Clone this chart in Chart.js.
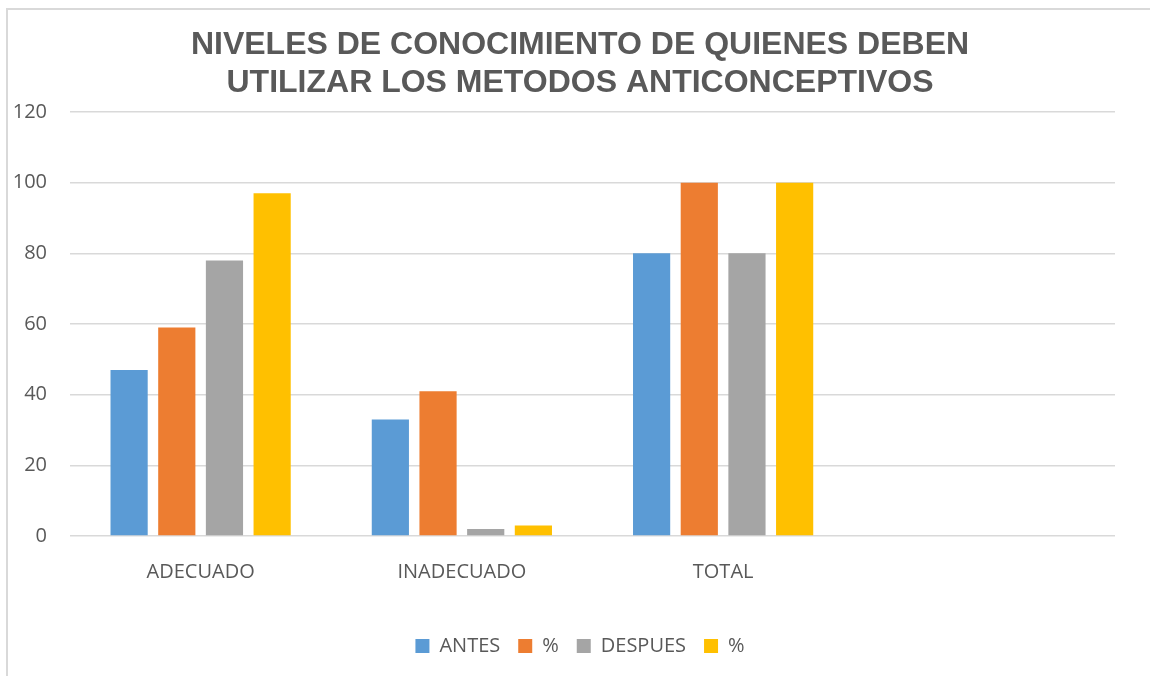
<!DOCTYPE html>
<html>
<head>
<meta charset="utf-8">
<script src="https://cdn.jsdelivr.net/npm/chart.js@4/dist/chart.umd.min.js"></script>
<style>
  html, body { margin: 0; padding: 0; background: #ffffff; }
  body { width: 1150px; height: 676px; position: relative; overflow: hidden; }
  #frame { position: absolute; left: 6px; top: 8px; width: 1144px; height: 668px;
           border-left: 2px solid #d9d9d9; border-top: 2px solid #d9d9d9; box-sizing: border-box; }
  #wrap { position: absolute; left: 0; top: 0; width: 1150px; height: 676px; }
</style>
</head>
<body>
<div id="frame"></div>
<div id="wrap"><canvas id="c" width="1150" height="676"></canvas></div>
<script>
const categories = ["ADECUADO", "INADECUADO", "TOTAL", ""];
const antes = [47, 33, 80, null];
const antesPct = [59, 41, 100, null];
const despues = [78, 2, 80, null];
const despuesPct = [97, 3, 100, null];
const seriesNames = ["ANTES", "%", "DESPUES", "%"];
const seriesColors = ["#5b9bd5", "#ed7d31", "#a5a5a5", "#ffc000"];
const titleLines = ["NIVELES DE CONOCIMIENTO DE QUIENES DEBEN", "UTILIZAR LOS METODOS ANTICONCEPTIVOS"];

const textColor = "#595959";
const baseFont = "'Open Sans', 'Liberation Sans', sans-serif";

// labels at the bottom of the reference are cut off by its frame
const clipLabels = {
  id: 'clipLabels',
  afterLayout(chart) {
    // centre title and legend over the frame rather than the whole canvas
    const shift = 45;
    [chart.legend, chart.titleBlock].forEach(b => {
      if (b) { b.left += shift; b.width -= shift; }
    });
  },
  afterDraw(chart) {
    const sx = chart.scales.x;
    const ctx = chart.ctx;
    const y0 = sx.top + sx.options.ticks.padding + Math.round(sx.options.ticks.font.size * 0.9);
    ctx.save();
    ctx.fillStyle = '#ffffff';
    ctx.fillRect(sx.left, y0, sx.right - sx.left, 16);
    ctx.restore();
  }
};

const values = [antes, antesPct, despues, despuesPct];
new Chart(document.getElementById('c'), {
  type: 'bar',
  data: {
    labels: categories,
    datasets: values.map((v, i) => ({
      label: seriesNames[i],
      data: v,
      backgroundColor: seriesColors[i],
      borderWidth: 0,
      categoryPercentage: 0.73,
      barPercentage: 0.78
    }))
  },
  options: {
    responsive: false,
    animation: false,
    devicePixelRatio: 1,
    layout: { padding: { left: 0, right: 35, top: 0, bottom: 10 } },
    plugins: {
      title: {
        display: true,
        text: titleLines,
        color: textColor,
        font: { family: "'Liberation Sans', Arial, sans-serif", size: 32, weight: 'bold', lineHeight: 1.1875 },
        padding: { top: 26, bottom: 10 }
      },
      legend: {
        position: 'bottom',
        labels: {
          color: textColor,
          font: { family: baseFont, size: 20 },
          boxWidth: 14,
          boxHeight: 14,
          padding: 18
        }
      },
      tooltip: { enabled: false }
    },
    scales: {
      x: {
        grid: { display: false, drawTicks: false },
        border: { display: false },
        ticks: { color: textColor, font: { family: baseFont, size: 20 }, padding: 24, maxRotation: 0 },
        afterFit: (s) => { s.height = 82; }
      },
      y: {
        min: 0,
        max: 120,
        ticks: { stepSize: 20, color: textColor, font: { family: baseFont, size: 20 }, padding: 23 },
        grid: { color: '#d9d9d9', lineWidth: 1.5, drawTicks: false },
        border: { display: false },
        afterFit: (s) => { s.width = 70; }
      }
    }
  },
  plugins: [clipLabels]
});
</script>
</body>
</html>
